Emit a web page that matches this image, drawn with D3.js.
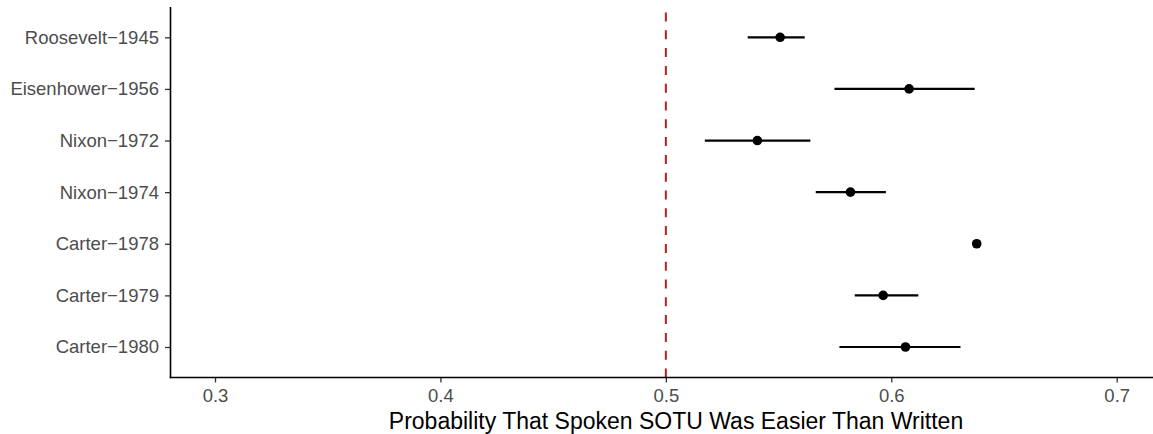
<!DOCTYPE html>
<html><head><meta charset="utf-8">
<script src="https://cdn.jsdelivr.net/npm/d3@7/dist/d3.min.js"></script>
<style>
html,body{margin:0;padding:0;background:#fff;}
svg{display:block;}
text{font-family:"Liberation Sans",Arial,Helvetica,sans-serif;}
</style></head>
<body>
<svg id="chart" width="1153" height="434"></svg>
<script>
const categories = ["Roosevelt\u22121945","Eisenhower\u22121956","Nixon\u22121972","Nixon\u22121974","Carter\u22121978","Carter\u22121979","Carter\u22121980"];
const estimates = [0.5507,0.6079,0.5406,0.5819,0.6379,0.5964,0.6063];
const lower     = [0.5363,0.5748,0.5173,0.5665,0.6379,0.5838,0.5770];
const upper     = [0.5616,0.6370,0.5641,0.5976,0.6379,0.6120,0.6307];
const xTicks = [0.3,0.4,0.5,0.6,0.7];
const refValue = 0.5;
const xTitle = "Probability That Spoken SOTU Was Easier Than Written";

(function(){
const svg = d3.select("#chart");
const pLeft = 170.5, pRight = 1153, pTop = 7, pBottom = 377.5;
const x = d3.scaleLinear().domain([0.3,0.7]).range([215,1116.7]);
const y = d3.scalePoint().domain(categories).range([37.3,347]);

svg.append("line")
  .attr("x1",x(refValue)).attr("x2",x(refValue))
  .attr("y1",pTop).attr("y2",pBottom)
  .attr("stroke","#B22222").attr("stroke-width",2)
  .attr("stroke-dasharray","9,8.8").attr("stroke-dashoffset",12.3);

const rows = categories.map((c,i)=>({c,est:estimates[i],lo:lower[i],hi:upper[i]}));

svg.append("g").selectAll("line").data(rows).join("line")
  .attr("x1",d=>x(d.lo)).attr("x2",d=>x(d.hi))
  .attr("y1",d=>y(d.c)).attr("y2",d=>y(d.c))
  .attr("stroke","#000").attr("stroke-width",2.2);

svg.append("g").selectAll("circle").data(rows).join("circle")
  .attr("cx",d=>x(d.est)).attr("cy",d=>y(d.c)).attr("r",4.8).attr("fill","#000");

const xAxis = svg.append("g").attr("transform",`translate(0,${pBottom})`)
  .call(d3.axisBottom(x).tickValues(xTicks).tickFormat(d3.format(".1f")).tickSizeOuter(0).tickSize(5).tickPadding(6.5));
xAxis.select(".domain").remove();
xAxis.append("line").attr("x1",pLeft-0.8).attr("x2",pRight).attr("stroke","#000").attr("stroke-width",1.6);
xAxis.selectAll(".tick line").attr("stroke","#333").attr("stroke-width",1.3);
xAxis.selectAll(".tick text").attr("fill","#4D4D4D").style("font-size","18.5px").style("font-family","'Liberation Sans',Arial,sans-serif");

const yAxis = svg.append("g").attr("transform",`translate(${pLeft},0)`)
  .call(d3.axisLeft(y).tickSize(5.5).tickPadding(6));
yAxis.select(".domain").remove();
yAxis.append("line").attr("y1",pTop).attr("y2",pBottom+0.8).attr("stroke","#000").attr("stroke-width",1.6);
yAxis.selectAll(".tick line").attr("stroke","#333").attr("stroke-width",1.3);
yAxis.selectAll(".tick text").attr("fill","#4D4D4D").style("font-size","18.5px").style("font-family","'Liberation Sans',Arial,sans-serif");

svg.append("text").attr("x",676).attr("y",428.5)
  .attr("text-anchor","middle").attr("fill","#000")
  .style("font-size","23px").text(xTitle);
})();
</script>
</body></html>
